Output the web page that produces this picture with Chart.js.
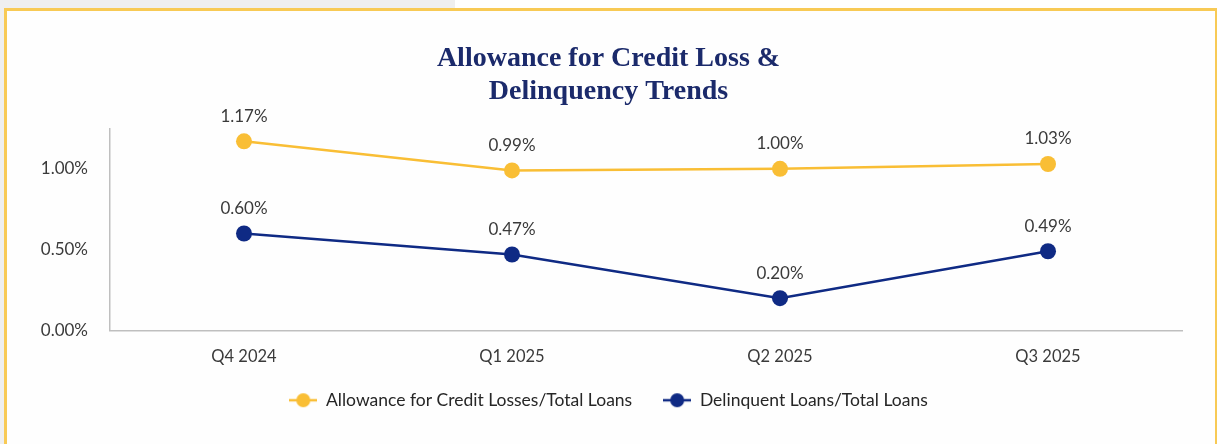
<!DOCTYPE html>
<html>
<head>
<meta charset="utf-8">
<script src="https://cdn.jsdelivr.net/npm/chart.js@4/dist/chart.umd.min.js"></script>
<style>
  html, body { margin: 0; padding: 0; }
  body { width: 1217px; height: 444px; background: #efefef; position: relative; overflow: hidden; }
  #topfill { position: absolute; left: 455px; top: 0; width: 762px; height: 9px; background: #ffffff; }
  #frame {
    position: absolute; left: 4px; top: 8px; width: 1208px; height: 440px;
    border: 3px solid #f8ca55; background: #fefefe;
  }
  #wrap { position: absolute; left: 0; top: 0; width: 1217px; height: 444px; }
</style>
</head>
<body>
<div id="topfill"></div>
<div id="frame"></div>
<div id="wrap"><canvas id="trend-chart" width="1217" height="444"></canvas></div>
<script>
const quarters = ['Q4 2024', 'Q1 2025', 'Q2 2025', 'Q3 2025'];
const allowanceRatio = [1.17, 0.99, 1.00, 1.03];
const delinquentRatio = [0.60, 0.47, 0.20, 0.49];
const yTicks = [0, 0.5, 1.0];
const seriesNames = ['Allowance for Credit Losses/Total Loans', 'Delinquent Loans/Total Loans'];

const gold = '#f9be35';
const navy = '#0f2a84';
const labelFont = 'Lato, "Open Sans", sans-serif';

// Legend marker: short line with a dot in the middle
function legendMarker(color) {
  const c = document.createElement('canvas');
  c.width = 28;
  c.height = 16;
  const g = c.getContext('2d');
  g.strokeStyle = color;
  g.lineWidth = 2.5;
  g.beginPath();
  g.moveTo(0, 8);
  g.lineTo(28, 8);
  g.stroke();
  g.fillStyle = color;
  g.beginPath();
  g.arc(14, 8, 7, 0, Math.PI * 2);
  g.fill();
  return c;
}

// Percent labels above each point
const valueLabels = {
  id: 'valueLabels',
  afterDatasetsDraw(chart) {
    const ctx = chart.ctx;
    ctx.save();
    ctx.font = '17px ' + labelFont;
    ctx.fillStyle = '#3a3a3a';
    ctx.textAlign = 'center';
    ctx.textBaseline = 'middle';
    chart.data.datasets.forEach((ds, i) => {
      chart.getDatasetMeta(i).data.forEach((pt, j) => {
        ctx.fillText(ds.data[j].toFixed(2) + '%', pt.x, pt.y - 25);
      });
    });
    ctx.restore();
  }
};

// Pull the legend a little closer to the axis labels (its padding also sets the item gap)
const legendNudge = {
  id: 'legendNudge',
  afterLayout(chart) {
    if (chart.legend) {
      chart.legend.top -= 10;
      chart.legend.bottom -= 10;
    }
  }
};

const ctx = document.getElementById('trend-chart').getContext('2d');
new Chart(ctx, {
  type: 'line',
  data: {
    labels: quarters,
    datasets: [
      {
        label: seriesNames[0],
        data: allowanceRatio,
        borderColor: gold,
        backgroundColor: gold,
        borderWidth: 2.5,
        pointRadius: 8,
        pointHoverRadius: 8,
        pointBorderWidth: 0,
        pointStyle: 'circle'
      },
      {
        label: seriesNames[1],
        data: delinquentRatio,
        borderColor: navy,
        backgroundColor: navy,
        borderWidth: 2.5,
        pointRadius: 8,
        pointHoverRadius: 8,
        pointBorderWidth: 0,
        pointStyle: 'circle'
      }
    ]
  },
  options: {
    responsive: false,
    animation: false,
    layout: { padding: { top: 33, right: 35, bottom: 15, left: 35 } },
    plugins: {
      title: {
        display: true,
        text: ['Allowance for Credit Loss &', 'Delinquency Trends'],
        color: '#1b2a6b',
        font: { family: '"Liberation Serif", serif', size: 28, weight: 'bold', lineHeight: 1.15 },
        padding: { top: 10, bottom: 21 }
      },
      legend: {
        position: 'bottom',
        labels: {
          usePointStyle: true,
          pointStyleWidth: 28,
          padding: 31,
          color: '#262626',
          font: { family: labelFont, size: 17.5 },
          generateLabels(chart) {
            return chart.data.datasets.map((ds, i) => ({
              text: ds.label,
              pointStyle: legendMarker(ds.borderColor),
              fillStyle: ds.borderColor,
              strokeStyle: ds.borderColor,
              lineWidth: 0,
              fontColor: '#262626',
              datasetIndex: i,
              hidden: false
            }));
          }
        }
      },
      tooltip: { enabled: false }
    },
    scales: {
      x: {
        offset: true,
        grid: { display: false },
        border: { display: true, color: '#bfbfbf', width: 1.5 },
        ticks: { color: '#3a3a3a', font: { family: labelFont, size: 16.5 }, padding: 8 },
        afterFit(scale) { scale.height = 40; }
      },
      y: {
        min: 0,
        max: 1.25,
        grid: { display: false, drawTicks: false },
        border: { display: true, color: '#bfbfbf', width: 1.5 },
        afterBuildTicks(scale) { scale.ticks = yTicks.map(v => ({ value: v })); },
        ticks: {
          color: '#3a3a3a',
          font: { family: labelFont, size: 17 },
          padding: 22,
          callback: v => v.toFixed(2) + '%'
        },
        afterFit(scale) { scale.width = 75; }
      }
    }
  },
  plugins: [valueLabels, legendNudge]
});
</script>
</body>
</html>
